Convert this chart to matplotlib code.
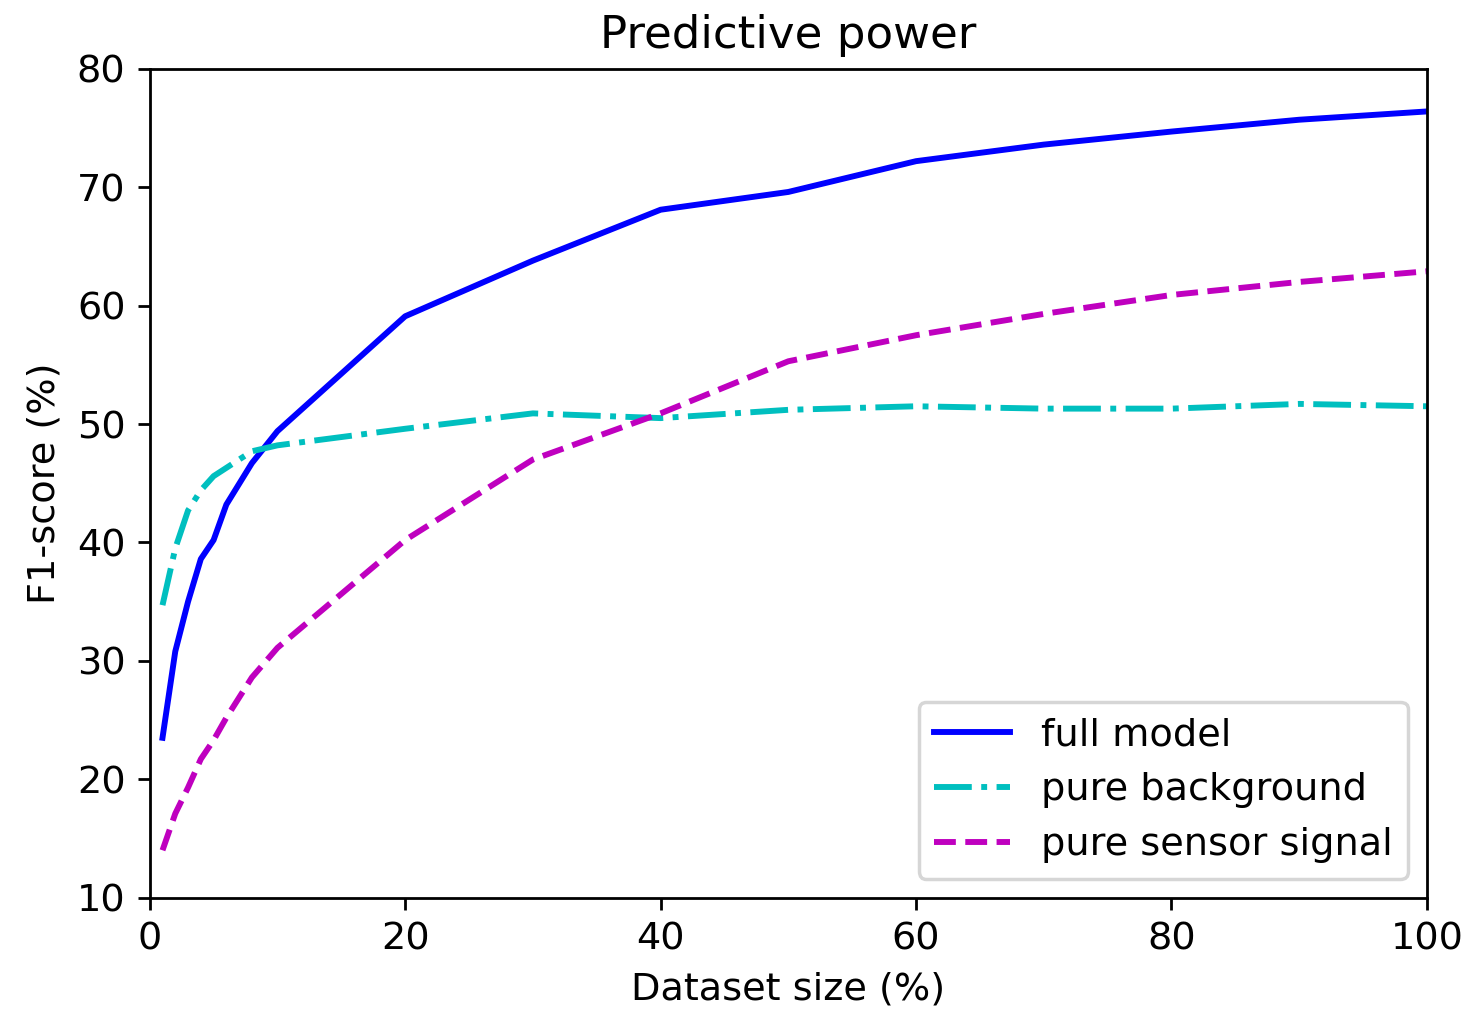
import matplotlib
matplotlib.use('Agg')
import matplotlib.pyplot as plt

# 数据集大小 (%)
size = [1, 2, 3, 4, 5, 6, 8, 10, 20, 30, 40, 50, 60, 70, 80, 90, 100]

full_model = [23.5, 30.8, 35.0, 38.6, 40.2, 43.2, 46.7, 49.4, 59.1,
              63.8, 68.1, 69.6, 72.2, 73.6, 74.7, 75.7, 76.4]
pure_background = [34.7, 39.5, 42.7, 44.4, 45.6, 46.3, 47.7, 48.2, 49.6,
                   50.9, 50.5, 51.2, 51.5, 51.3, 51.3, 51.7, 51.5]
pure_sensor = [14.0, 17.1, 19.3, 21.7, 23.3, 25.2, 28.6, 31.1, 40.2,
               47.0, 50.9, 55.3, 57.5, 59.3, 60.9, 62.0, 62.9]

plt.rcParams['font.size'] = 11
plt.rcParams['lines.linewidth'] = 1.7

fig = plt.figure(figsize=(5.872, 4.048), dpi=250)
ax = fig.add_axes([0.102, 0.113, 0.870, 0.819])

ax.plot(size, full_model, 'b-', label='full model')
ax.plot(size, pure_background, 'c-.', label='pure background')
ax.plot(size, pure_sensor, 'm--', label='pure sensor signal')

ax.set_xlim(0, 100)
ax.set_ylim(10, 80)
ax.set_title('Predictive power', fontsize=13)
ax.set_xlabel('Dataset size (%)')
ax.set_ylabel('F1-score (%)')
ax.legend(loc='lower right')

fig.savefig('out.png')
